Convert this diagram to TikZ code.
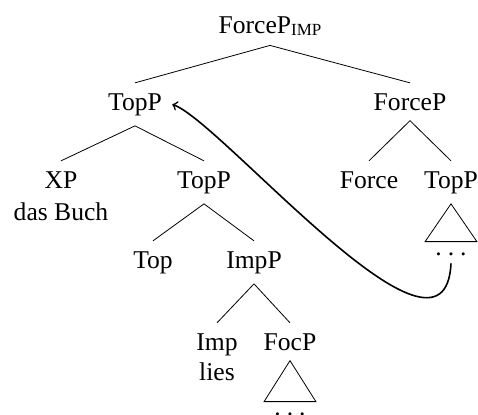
\documentclass[tikz,border=0pt]{standalone}
\usepackage{fontspec}
\setmainfont{Liberation Serif}
\usepackage{tikz}
\pgfdeclarelayer{edgelayer}
\pgfdeclarelayer{nodelayer}
\pgfsetlayers{edgelayer,nodelayer,main}
\newcommand{\roofdots}{.\kern3pt.\kern3pt.}
\tikzstyle{phrase}=[inner sep=5pt,anchor=base,font=\fontsize{12.8pt}{15pt}\selectfont]
\tikzstyle{roof_dots}=[inner sep=0pt,anchor=base,text height=6.5pt,text depth=4pt,minimum width=25.5pt,font=\fontsize{12.8pt}{15pt}\selectfont]
\tikzstyle{branch}=[draw=black]
\tikzstyle{movement}=[->,draw=black,line width=0.8pt]

\begin{document}
\begin{tikzpicture}[x=10pt,y=10pt]
	\useasboundingbox (-11.95, -10.35) rectangle (11.95, 10.35);
	\begin{pgfonlayer}{nodelayer}
		\node [style=phrase] (0) at (1.55, 8.7) {ForceP\raisebox{-1pt}{\fontsize{8.5pt}{9pt}\selectfont IMP}};
		\node [style=phrase] (1) at (-5.2, 4.85) {TopP};
		\node [style=phrase] (2) at (8.55, 4.85) {ForceP};
		\node [style=phrase] (3) at (-8.9, 0.95) {XP};
		\node [style=phrase] (4) at (-8.9, -0.65) {das Buch};
		\node [style=phrase] (5) at (-1.75, 0.95) {TopP};
		\node [style=phrase] (6) at (6.5, 0.95) {Force};
		\node [style=phrase] (7) at (10.6, 0.95) {TopP};
		\node [style=roof_dots] (8) at (10.6, -2.4) {\roofdots};
		\node [style=phrase] (9) at (-4.3, -3.05) {Top};
		\node [style=phrase] (10) at (0.75, -3.05) {ImpP};
		\node [style=phrase] (11) at (-1.1, -7.15) {Imp};
		\node [style=phrase] (12) at (-1.1, -8.65) {lies};
		\node [style=phrase] (13) at (2.55, -7.15) {FocP};
		\node [style=roof_dots] (14) at (2.55, -10.4) {\roofdots};
	\end{pgfonlayer}
	\begin{pgfonlayer}{edgelayer}
		\draw [style=branch] (1.north) -- (0.south) -- (2.north);
		\draw [style=branch] (3.north) -- (1.south) -- (5.north);
		\draw [style=branch] (6.north) -- (2.south) -- (7.north);
		\draw [style=branch] (7.south) -- (8.north west) -- (8.north east) -- cycle;
		\draw [style=branch] (9.north) -- (5.south) -- (10.north);
		\draw [style=branch] (11.north) -- (10.south) -- (13.north);
		\draw [style=branch] (13.south) -- (14.north west) -- (14.north east) -- cycle;
		\draw [style=movement] (8.south) .. controls +(-0.3, -6.4) and +(2.45, -0.85) .. (1.east);
	\end{pgfonlayer}
\end{tikzpicture}
\end{document}
